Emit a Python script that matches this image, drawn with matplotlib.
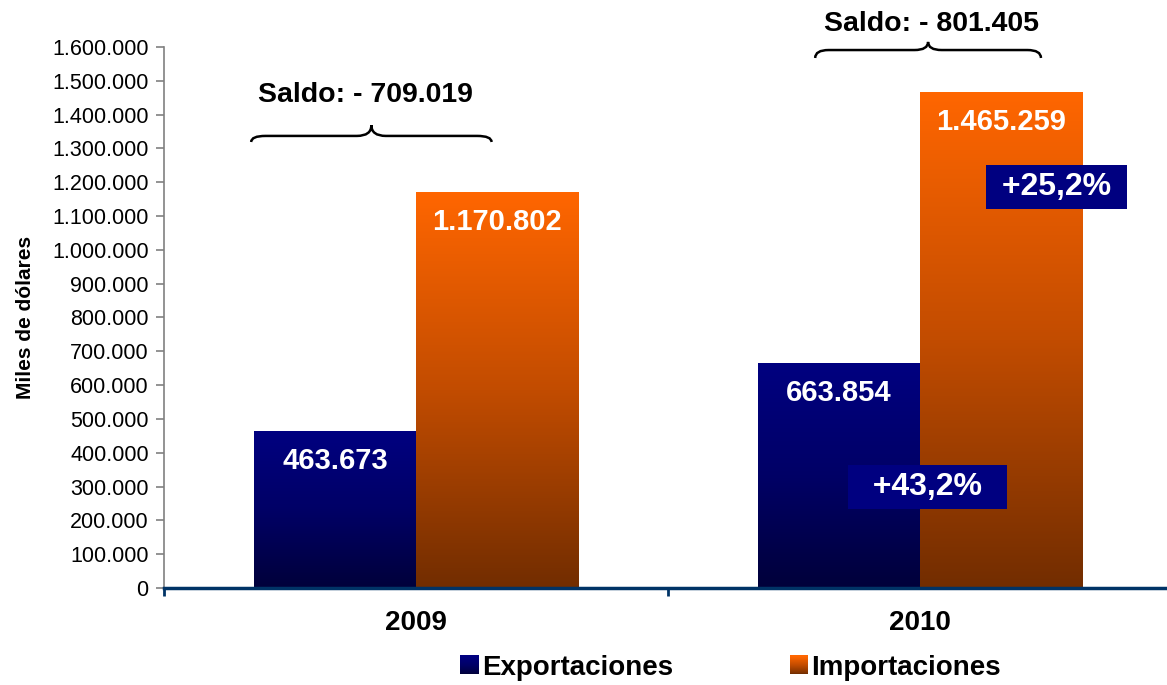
import matplotlib
matplotlib.use("Agg")
import matplotlib.pyplot as plt
import numpy as np
from matplotlib.colors import LinearSegmentedColormap
from matplotlib.patches import Rectangle, PathPatch
from matplotlib.path import Path
from matplotlib.legend_handler import HandlerBase
from matplotlib.ticker import FuncFormatter

plt.rcParams['font.family'] = ['Liberation Sans', 'DejaVu Sans']

# data
years = ['2009', '2010']
exportaciones = [463673, 663854]
importaciones = [1170802, 1465259]
saldo_labels = ['Saldo: - 709.019', 'Saldo: - 801.405']
growth_labels = ['+43,2%', '+25,2%']   # exportaciones, importaciones (2010 vs 2009)

# gradients (bottom -> top)
cmap_exp = LinearSegmentedColormap.from_list('exp', ['#00003a', '#000066', '#000080'])
cmap_imp = LinearSegmentedColormap.from_list('imp', ['#722d00', '#c24c00', '#ff6600'])


def fmt(v, pos=None):
    return '{:,.0f}'.format(v).replace(',', '.')


def gradient_bars(ax, xs, heights, width, cmap):
    grad = np.linspace(0, 1, 256).reshape(-1, 1)
    bars = ax.bar(xs, heights, width, color='none', edgecolor='none')
    for b in bars:
        x0 = b.get_x()
        ax.imshow(grad, extent=[x0, x0 + b.get_width(), 0, b.get_height()],
                  origin='lower', aspect='auto', cmap=cmap, zorder=2)
    return bars


class GradientHandler(HandlerBase):
    def create_artists(self, legend, orig_handle, xdescent, ydescent,
                       width, height, fontsize, trans):
        cmap = orig_handle.cmap
        n = 20
        s = height
        arts = []
        for i in range(n):
            r = Rectangle((-xdescent, -ydescent + i * s / n), s, s / n + 0.3,
                          facecolor=cmap(i / (n - 1)), edgecolor='none',
                          transform=trans)
            arts.append(r)
        return arts


def brace(ax, x0, x1, yb, ym, yt):
    xc = (x0 + x1) / 2
    d = (x1 - x0) * 0.06
    verts = [(x0, yb), (x0, ym), (x0 + d, ym),
             (xc - d, ym), (xc, ym), (xc, yt),
             (xc, ym), (xc + d, ym),
             (x1 - d, ym), (x1, ym), (x1, yb)]
    codes = [Path.MOVETO, Path.CURVE3, Path.CURVE3,
             Path.LINETO, Path.CURVE3, Path.CURVE3,
             Path.CURVE3, Path.CURVE3,
             Path.LINETO, Path.CURVE3, Path.CURVE3]
    ax.add_patch(PathPatch(Path(verts, codes), facecolor='none',
                           edgecolor='black', lw=1.8, clip_on=False, zorder=5))


fig = plt.figure(figsize=(11.67, 6.85), dpi=100)
ax = fig.add_axes([0.1405, 0.1416, 0.8638, 0.7898])

x = np.arange(len(years))
w = 0.322
off = w / 2
gradient_bars(ax, x - off, exportaciones, w, cmap_exp)
gradient_bars(ax, x + off, importaciones, w, cmap_imp)

ax.set_xlim(-0.5, 1.5)
ax.set_ylim(0, 1600000)

# value labels
for i in range(len(years)):
    ax.text(x[i] - off, exportaciones[i] - 88000, fmt(exportaciones[i]),
            color='white', fontsize=21, fontweight='bold', ha='center', va='center', zorder=4)
    ax.text(x[i] + off, importaciones[i] - 88000, fmt(importaciones[i]),
            color='white', fontsize=21, fontweight='bold', ha='center', va='center', zorder=4)

# saldo annotations
saldo_text_pos = [(-0.100, 1458000), (1.022, 1668000)]
brace_pos = [(-0.327, 0.150, 1319000, 1337000, 1369000),
             (0.792, 1.240, 1567500, 1591000, 1615000)]
for lab, (tx, ty), bp in zip(saldo_labels, saldo_text_pos, brace_pos):
    ax.text(tx, ty, lab, fontsize=20.5, fontweight='bold', ha='center', va='center',
            clip_on=False, zorder=5)
    brace(ax, *bp)

# growth boxes
growth_pos = [(1.015, 298700), (1.271, 1186000)]
growth_pad = ['  {}  ', ' {} ']
for lab, (gx, gy), p in zip(growth_labels, growth_pos, growth_pad):
    ax.text(gx, gy, p.format(lab), fontsize=23, fontweight='bold', color='white',
            ha='center', va='center', zorder=6,
            bbox=dict(boxstyle='square,pad=0.22', facecolor='#000080', edgecolor='none'))

# axes styling
ax.spines['top'].set_visible(False)
ax.spines['right'].set_visible(False)
ax.spines['left'].set_color('#808080')
ax.spines['left'].set_linewidth(1.2)
ax.spines['bottom'].set_color('#003366')
ax.spines['bottom'].set_linewidth(2.5)
ax.spines['bottom'].set_zorder(3)

ax.set_yticks(np.arange(0, 1600001, 100000))
ax.yaxis.set_major_formatter(FuncFormatter(fmt))
ax.tick_params(axis='y', labelsize=15.5, length=6, width=1.2, color='#808080', pad=5)

ax.set_xticks(x)
ax.set_xticklabels(years, fontsize=20, fontweight='bold')
ax.set_xticks([-0.5, 0.5, 1.5], minor=True)
ax.tick_params(axis='x', which='major', length=0, pad=16)
ax.tick_params(axis='x', which='minor', length=6, width=2, color='#003366')

ax.set_ylabel('Miles de dólares', fontsize=15, fontweight='bold')
ax.yaxis.set_label_coords(-0.128, 0.5)

# legend
h_exp = Rectangle((0, 0), 1, 1)
h_exp.cmap = cmap_exp
h_imp = Rectangle((0, 0), 1, 1)
h_imp.cmap = cmap_imp
leg = fig.legend([h_exp, h_imp], ['Exportaciones', 'Importaciones'],
                 handler_map={Rectangle: GradientHandler()},
                 loc='center', bbox_to_anchor=(0.626, 0.025), ncol=2, frameon=False,
                 prop={'size': 20, 'weight': 'bold'},
                 handlelength=0.62, handleheight=0.65, handletextpad=0.15,
                 columnspacing=4.2)

fig.savefig('out.png', dpi=100)
